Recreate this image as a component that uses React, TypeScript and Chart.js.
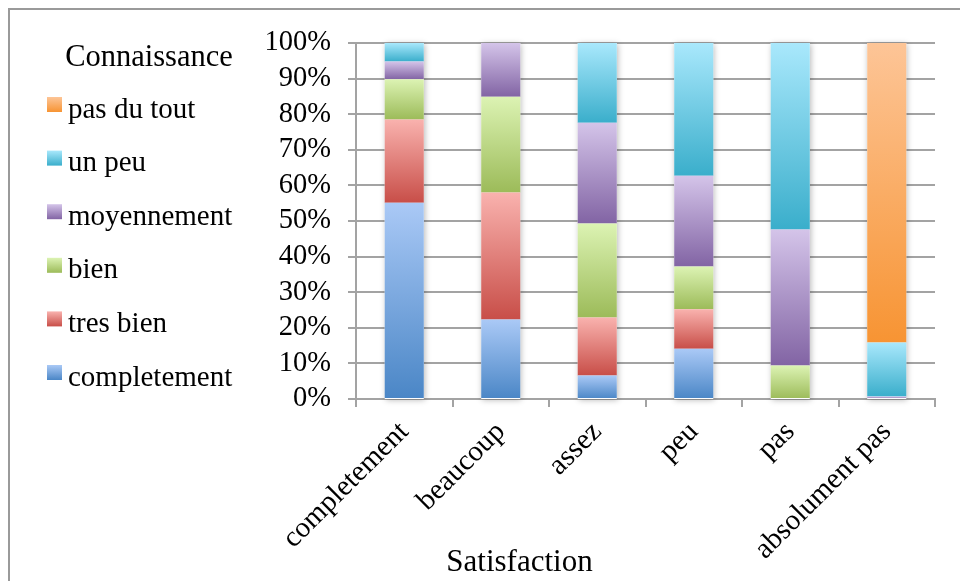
import React, { useEffect, useRef } from "react";
import { Chart, registerables } from "chart.js";

Chart.register(...registerables);

const categories = ["completement", "beaucoup", "assez", "peu", "pas", "absolument pas"];
const seriesLabels = ["completement", "tres bien", "bien", "moyennement", "un peu", "pas du tout"];
const completement = [55.1, 22.3, 6.6, 14.1, 0, 0];
const tresBien = [23.4, 35.7, 16.3, 11.1, 0, 0];
const bien = [11.3, 26.9, 26.4, 12.0, 9.4, 0];
const moyennement = [5.0, 15.1, 28.3, 25.5, 38.2, 0.7];
const unPeu = [5.2, 0, 22.4, 37.3, 52.4, 15.2];
const pasDuTout = [0, 0, 0, 0, 0, 84.1];
const seriesValues = [completement, tresBien, bien, moyennement, unPeu, pasDuTout];
const legendTitle = "Connaissance";
const xTitle = "Satisfaction";

const lightColors = ["#aac9f6", "#f9b2ae", "#dcf3b3", "#d4c4e9", "#a9e8fc", "#fdc597"];
const darkColors = ["#4a86c6", "#c84e48", "#9cbb59", "#8264a4", "#3aaecb", "#f79433"];

const FONT = "'Liberation Serif', 'Times New Roman', serif";
const GRID = "#a3a3a3";

function makeGradient(ctx: any, dsIndex: number) {
  const chart = ctx.chart;
  const dark = darkColors[dsIndex];
  if (!chart.chartArea || ctx.type !== "data") return dark;
  const i = ctx.dataIndex;
  let start = 0;
  for (let k = 0; k < dsIndex; k++) start += seriesValues[k][i] || 0;
  const end = start + (seriesValues[dsIndex][i] || 0);
  const y = chart.scales.y;
  const y0 = y.getPixelForValue(end);
  const y1 = y.getPixelForValue(start);
  if (!isFinite(y0) || !isFinite(y1) || y1 - y0 < 1) return dark;
  const g = chart.ctx.createLinearGradient(0, y0, 0, y1);
  g.addColorStop(0, lightColors[dsIndex]);
  g.addColorStop(1, dark);
  return g;
}

const decorPlugin = {
  id: "decor",
  beforeDatasetsDraw(chart: any) {
    const ctx = chart.ctx;
    const meta = chart.getDatasetMeta(0);
    const y = chart.scales.y;
    ctx.save();
    ctx.shadowColor = "rgba(0,0,0,0.28)";
    ctx.shadowBlur = 6;
    ctx.shadowOffsetX = 1;
    ctx.shadowOffsetY = 1;
    ctx.fillStyle = "#ffffff";
    meta.data.forEach((el: any, i: number) => {
      let total = 0;
      seriesValues.forEach((s) => (total += s[i] || 0));
      const top = y.getPixelForValue(total);
      const bottom = y.getPixelForValue(0);
      const w = el.width;
      ctx.fillRect(el.x - w / 2, top, w, bottom - top);
    });
    ctx.restore();
  },
  afterDraw(chart: any) {
    const ctx = chart.ctx;
    const area = chart.chartArea;
    ctx.save();
    // frame
    ctx.strokeStyle = "#9a9a9a";
    ctx.lineWidth = 2;
    ctx.beginPath();
    ctx.moveTo(9, chart.height + 5);
    ctx.lineTo(9, 9);
    ctx.lineTo(chart.width + 5, 9);
    ctx.stroke();

    // legend
    ctx.fillStyle = "#000";
    ctx.textBaseline = "alphabetic";
    ctx.font = `30.5px ${FONT}`;
    ctx.textAlign = "center";
    ctx.fillText(legendTitle, 149, 66);
    ctx.font = `29px ${FONT}`;
    ctx.textAlign = "left";
    const n = chart.data.datasets.length;
    for (let j = 0; j < n; j++) {
      const di = n - 1 - j;
      const base = 117.5 + j * 53.6;
      const bx = 47, by = base - 20.5, bs = 15;
      const g = ctx.createLinearGradient(0, by, 0, by + bs);
      g.addColorStop(0, lightColors[di]);
      g.addColorStop(1, darkColors[di]);
      ctx.fillStyle = g;
      ctx.fillRect(bx, by, bs, bs);
      ctx.fillStyle = "#000";
      ctx.fillText(chart.data.datasets[di].label, 68, base);
    }

    // x axis title
    ctx.font = `31px ${FONT}`;
    ctx.textAlign = "center";
    ctx.fillText(xTitle, area.left + 163.5, 571);
    ctx.restore();
  },
};

export default function App() {
  const ref = useRef<HTMLCanvasElement | null>(null);
  useEffect(() => {
    document.body.style.margin = "0";
    document.body.style.overflow = "hidden";
    const canvas = ref.current;
    if (!canvas) return;
    const chart = new Chart(canvas, {
      type: "bar",
      data: {
        labels: categories,
        datasets: seriesLabels.map((label, di) => ({
          label,
          data: seriesValues[di],
          backgroundColor: (ctx: any) => makeGradient(ctx, di),
          borderWidth: 0,
          barPercentage: 0.405,
          categoryPercentage: 1,
        })),
      },
      options: {
        animation: false,
        responsive: true,
        maintainAspectRatio: false,
        layout: { padding: { top: 43, right: 25, left: 0, bottom: 0 } },
        plugins: {
          legend: { display: false },
          tooltip: { enabled: false },
          title: { display: false },
        },
        scales: {
          x: {
            stacked: true,
            afterFit: (s: any) => {
              s.height = 182;
            },
            grid: {
              display: true,
              offset: true,
              drawOnChartArea: false,
              drawTicks: true,
              tickLength: 8,
              color: GRID,
              lineWidth: 2,
            },
            border: { display: true, color: GRID, width: 2 },
            ticks: {
              autoSkip: false,
              minRotation: 45,
              maxRotation: 45,
              padding: 8,
              color: "#000",
              font: { family: FONT, size: 29 },
            },
          },
          y: {
            stacked: true,
            min: 0,
            max: 100,
            afterFit: (s: any) => {
              s.width = 356;
            },
            grid: {
              drawOnChartArea: true,
              drawTicks: true,
              tickLength: 8,
              color: GRID,
              lineWidth: 2,
            },
            border: { display: true, color: GRID, width: 2 },
            ticks: {
              autoSkip: false,
              stepSize: 10,
              padding: 17,
              color: "#000",
              font: { family: FONT, size: 28.5 },
              callback: (v: any) => `${v}%`,
            },
          },
        },
      },
      plugins: [decorPlugin],
    });
    return () => chart.destroy();
  }, []);
  return (
    <div style={{ position: "relative", width: 960, height: 581 }}>
      <canvas ref={ref} />
    </div>
  );
}
